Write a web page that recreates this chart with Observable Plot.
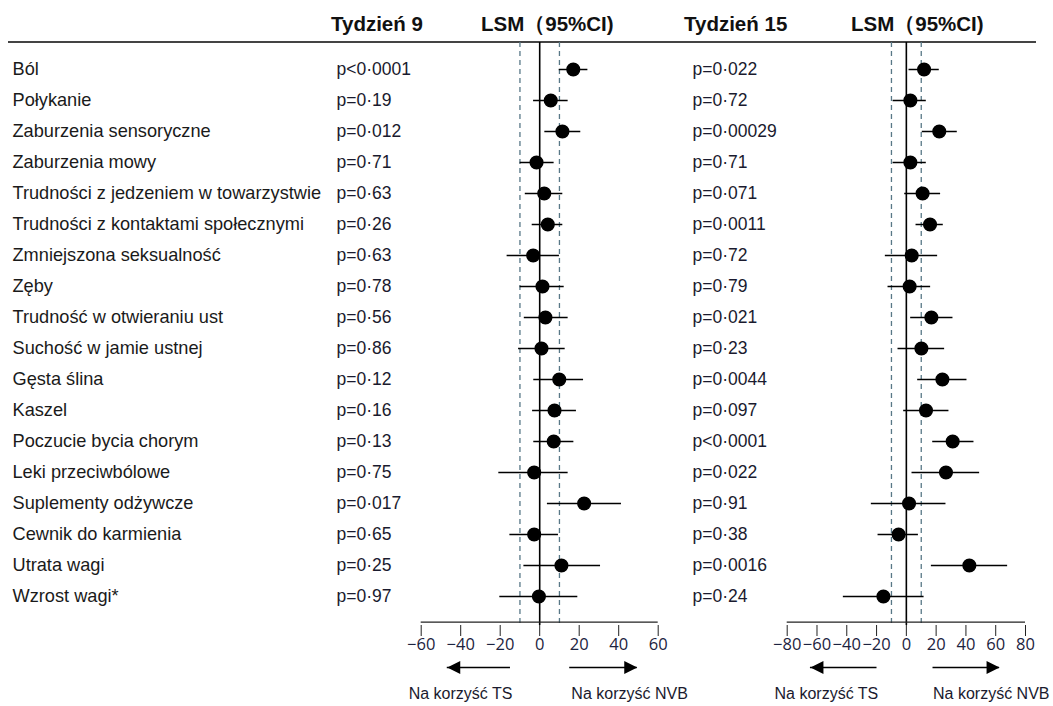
<!DOCTYPE html>
<html>
<head>
<meta charset="utf-8">
<script src="https://cdn.jsdelivr.net/npm/d3@7"></script>
<script src="https://cdn.jsdelivr.net/npm/@observablehq/plot@0.6"></script>
<style>
  body { margin: 0; background: white; }
  #root { position: relative; width: 1053px; height: 706px; overflow: hidden; background: white; }
  .hdr { position: absolute; top: 9px; font-family: "Liberation Sans Narrow", "Liberation Sans", Arial, sans-serif; font-weight: bold; font-size: 20.5px; color: #111; white-space: nowrap; line-height: 30px; }
  .rule { position: absolute; left: 8px; top: 41px; width: 1028px; height: 2px; background: #444; }
  .panel { position: absolute; top: 0; }
</style>
</head>
<body>
<div id="root">
  <div class="hdr" style="left:331px">Tydzień 9</div>
  <div class="hdr" style="left:481px">LSM（95%CI)</div>
  <div class="hdr" style="left:684px">Tydzień 15</div>
  <div class="hdr" style="left:851px">LSM（95%CI)</div>
  <div class="rule"></div>
  <div class="panel" id="pA" style="left:0px;width:680px"></div>
  <div class="panel" id="pB" style="left:680px;width:373px"></div>
</div>
<script>
// ---- data ----
const labels = ["Ból","Połykanie","Zaburzenia sensoryczne","Zaburzenia mowy","Trudności z jedzeniem w towarzystwie","Trudności z kontaktami społecznymi","Zmniejszona seksualność","Zęby","Trudność w otwieraniu ust","Suchość w jamie ustnej","Gęsta ślina","Kaszel","Poczucie bycia chorym","Leki przeciwbólowe","Suplementy odżywcze","Cewnik do karmienia","Utrata wagi","Wzrost wagi*"];
const pW9  = ["p<0·0001","p=0·19","p=0·012","p=0·71","p=0·63","p=0·26","p=0·63","p=0·78","p=0·56","p=0·86","p=0·12","p=0·16","p=0·13","p=0·75","p=0·017","p=0·65","p=0·25","p=0·97"];
const pW15 = ["p=0·022","p=0·72","p=0·00029","p=0·71","p=0·071","p=0·0011","p=0·72","p=0·79","p=0·021","p=0·23","p=0·0044","p=0·097","p<0·0001","p=0·022","p=0·91","p=0·38","p=0·0016","p=0·24"];
const estW9 = [17.0, 5.6, 11.5, -1.6, 2.3, 4.1, -3.3, 1.4, 2.9, 0.9, 9.9, 7.5, 7.1, -2.8, 22.5, -2.8, 11.0, -0.4];
const loW9  = [9.9, -3.1, 2.6, -9.9, -7.3, -3.8, -16.5, -9.9, -7.8, -10.7, -3.0, -3.6, -3.0, -20.7, 3.9, -15.1, -8.0, -20.2];
const hiW9  = [24.4, 14.4, 20.8, 7.3, 11.7, 11.7, 10.0, 12.4, 14.4, 12.9, 22.2, 18.6, 17.3, 14.4, 41.4, 9.5, 30.8, 19.3];
const estW15 = [11.9, 2.7, 22.1, 2.7, 10.9, 15.9, 3.6, 2.2, 16.8, 10.1, 24.2, 13.2, 31.1, 26.6, 1.8, -5.2, 42.3, -15.4];
const loW15  = [1.8, -8.9, 10.7, -8.9, -1.1, 6.5, -14.1, -12.3, 2.9, -5.6, 7.6, -1.8, 17.7, 3.8, -23.5, -19.0, 16.8, -42.3];
const hiW15  = [22.1, 13.4, 34.2, 13.4, 23.0, 24.8, 21.0, 16.3, 31.3, 25.7, 40.7, 28.6, 45.4, 49.2, 26.6, 8.1, 68.0, 11.9];
const ticksW9 = [-60, -40, -20, 0, 20, 40, 60];
const ticksW15 = [-80, -60, -40, -20, 0, 20, 40, 60, 80];
const refLines = [-10, 10];
const favourTS = "Na korzyść TS";
const favourNVB = "Na korzyść NVB";

// ---- helpers ----
const lastLabel = labels[labels.length - 1];
const triRight = { draw(ctx) { ctx.moveTo(0, 0); ctx.lineTo(-13, -6.5); ctx.lineTo(-13, 6.5); ctx.closePath(); } };
const triLeft  = { draw(ctx) { ctx.moveTo(0, 0); ctx.lineTo(13, -6.5); ctx.lineTo(13, 6.5); ctx.closePath(); } };
const labelFont = "Liberation Sans, Arial, sans-serif";

function panel({width, marginLeft, marginRight, domain, ticks, est, lo, hi, pvals, pDx, withLabels, arrows, notes}) {
  const rows = labels.map((label, i) => ({label, p: pvals[i], est: est[i], lo: lo[i], hi: hi[i]}));
  const marks = [
    Plot.ruleX(refLines, {stroke: "#587887", strokeWidth: 1.3, strokeDasharray: "5,4"}),
    Plot.ruleX([0], {stroke: "black", strokeWidth: 1.6}),
    Plot.ruleY([lastLabel], {x1: domain[0], x2: domain[1], dy: 25.7, stroke: "#222", strokeWidth: 1.3}),
    Plot.axisX({ticks, tickSize: 11, tickPadding: 2, fontSize: 16.5, fontFamily: "Open Sans", fill: "#1c2340", stroke: "#222", label: null}),
    Plot.ruleY(rows, {y: "label", x1: "lo", x2: "hi", stroke: "black", strokeWidth: 1.5}),
    Plot.dot(rows, {x: "est", y: "label", r: 6.3, fill: "black", stroke: "black"}),
    Plot.text(rows, {y: "label", text: "p", frameAnchor: "left", dx: pDx, textAnchor: "start", fontSize: 17.5, fontFamily: labelFont, fill: "#1a1a2e"}),
    Plot.ruleY(arrows, {y: () => lastLabel, x1: "from", x2: "to", dy: 71, stroke: "black", strokeWidth: 1.6}),
    Plot.dot(arrows, {y: () => lastLabel, x: "to", dy: 71, symbol: d => d.dir > 0 ? triRight : triLeft, fill: "black", stroke: "none", r: 6}),
    Plot.text(notes, {y: () => lastLabel, x: "x", text: "t", dy: 97, fontSize: 16, fontFamily: labelFont, fill: "#1a1a2e"})
  ];
  if (withLabels) {
    marks.push(Plot.text(rows, {y: "label", text: "label", frameAnchor: "left", dx: 12 - marginLeft, textAnchor: "start", fontSize: 18.2, fontFamily: labelFont, fill: "#1a1a1a"}));
  }
  return Plot.plot({
    width, height: 706,
    marginLeft, marginRight, marginTop: 42, marginBottom: 81,
    style: {background: "transparent", overflow: "visible"},
    x: {domain, axis: null},
    y: {type: "point", domain: labels, range: [66, 599.3], padding: 0, axis: null},
    marks
  });
}

document.getElementById("pA").append(panel({
  width: 680, marginLeft: 420.7, marginRight: 22.3, domain: [-60, 60], ticks: ticksW9,
  est: estW9, lo: loW9, hi: hiW9, pvals: pW9, pDx: 336 - 420.7, withLabels: true,
  arrows: [{from: -14.8, to: -46.8, dir: -1}, {from: 15.2, to: 49.4, dir: 1}],
  notes: [{x: -40.1, t: favourTS}, {x: 45.5, t: favourNVB}]
}));
document.getElementById("pB").append(panel({
  width: 373, marginLeft: 106.7, marginRight: 28, domain: [-80, 80], ticks: ticksW15,
  est: estW15, lo: loW15, hi: hiW15, pvals: pW15, pDx: 692 - 786.7, withLabels: false,
  arrows: [{from: -19.7, to: -64.4, dir: -1}, {from: 17.9, to: 62.6, dir: 1}],
  notes: [{x: -53.7, t: favourTS}, {x: 57, t: favourNVB}]
}));
</script>
</body>
</html>
